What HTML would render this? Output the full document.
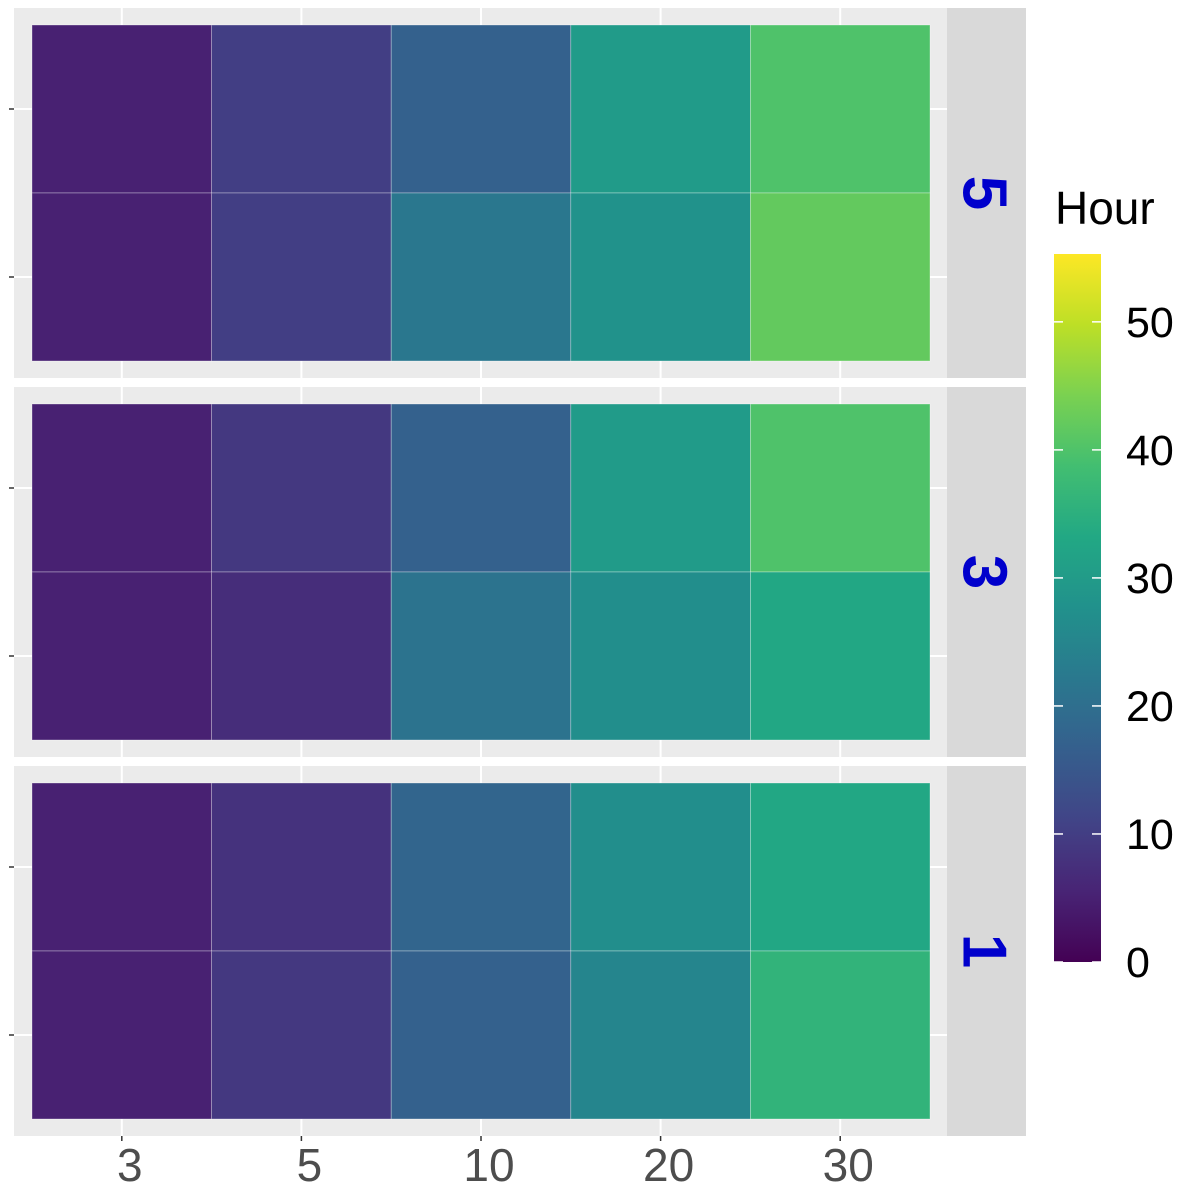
<!DOCTYPE html>
<html><head><meta charset="utf-8"><style>
html,body{margin:0;padding:0;background:#fff;}
svg{display:block;font-family:"Liberation Sans",sans-serif;}
</style></head><body>
<svg id="chart" width="1200" height="1200" viewBox="0 0 1200 1200"></svg>
<script>
const xCategories = ["3","5","10","20","30"];
const facets = ["5","3","1"];
const rowLabels = ["top","bottom"];
// values[facet][row][col]
const values5 = [[5,10,17,30,40],[5,10,22,28,42]];
const values3 = [[5,9,17,30,40],[5,7,21,27,33]];
const values1 = [[5,8,18,27,33],[5,9,17,25,36]];
const facetValues = [values5, values3, values1];
const legendTicks = [0,10,20,30,40,50];
const legendMin = 0, legendMax = 55.3;

const NS = "http://www.w3.org/2000/svg";
const svg = document.getElementById("chart");
function mk(tag, attrs, parent){const e=document.createElementNS(NS,tag);for(const k in attrs)e.setAttribute(k,attrs[k]);(parent||svg).appendChild(e);return e;}

const vir = [[68,1,84],[72,36,117],[65,68,135],[53,95,141],[42,120,142],[33,145,140],[34,168,132],[66,190,113],[122,209,81],[189,223,38],[253,231,37]];
function viridis(t){t=Math.max(0,Math.min(1,t));const p=t*(vir.length-1);const i=Math.min(vir.length-2,Math.floor(p));const f=p-i;const c=vir[i].map((v,k)=>Math.round(v+(vir[i+1][k]-v)*f));return `rgb(${c[0]},${c[1]},${c[2]})`;}

const panelX0=14, panelX1=947, tileX0=32, tileX1=930;
const panelTops=[8,387,766], panelH=370, tileOff=17, tileH=336;
const colW=(tileX1-tileX0)/xCategories.length;
function xPos(i){return tileX0+colW*(i+0.5);}

facets.forEach((f,fi)=>{
  const py=panelTops[fi];
  const g=mk("g",{});
  
  
  mk("rect",{x:panelX0,y:py,width:panelX1-panelX0,height:panelH,fill:"#ebebeb"},g);
  xCategories.forEach((c,i)=>{mk("line",{x1:xPos(i),x2:xPos(i),y1:py,y2:py+panelH,stroke:"#fff","stroke-width":2},g);});
  rowLabels.forEach((r,ri)=>{const yy=py+tileOff+tileH/4+ri*tileH/2;mk("line",{x1:panelX0,x2:panelX1,y1:yy,y2:yy,stroke:"#fff","stroke-width":2},g);
    mk("line",{x1:9,x2:14,y1:yy,y2:yy,stroke:"#333","stroke-width":1.5});});
  const vals=facetValues[fi];
  vals.forEach((row,ri)=>{row.forEach((v,ci)=>{
    const r=mk("rect",{x:tileX0+ci*colW,y:py+tileOff+ri*tileH/2,width:colW,height:tileH/2,fill:viridis((v-legendMin)/(legendMax-legendMin)),stroke:"rgba(255,255,255,0.45)","stroke-width":0.7},g);
    
    
  });});
  mk("rect",{x:947,y:py,width:79,height:panelH,fill:"#d9d9d9"},g);
  const t=mk("text",{x:0,y:0,transform:`translate(984,${py+panelH/2}) rotate(90)`,"text-anchor":"middle","dominant-baseline":"central","font-size":62,"font-weight":"bold",fill:"#0000cc"},g);
  t.textContent=f;
  
  
});
xCategories.forEach((c,i)=>{
  mk("line",{x1:xPos(i),x2:xPos(i),y1:1136,y2:1141,stroke:"#333","stroke-width":1.5});
  const t=mk("text",{x:xPos(i)+8,y:1181,"text-anchor":"middle","font-size":46,fill:"#4d4d4d"});
  t.textContent=c;
  
  
});
const lg=mk("g",{});


const ht=mk("text",{x:1055,y:224,"font-size":46,fill:"#000"},lg);ht.textContent="Hour";
const defs=mk("defs",{});
const grad=mk("linearGradient",{id:"vg",x1:0,y1:1,x2:0,y2:0},defs);
for(let i=0;i<=20;i++){mk("stop",{offset:i/20,"stop-color":viridis(i/20)},grad);}
const barTop=254, barBot=962, barX=1054, barW=47;
function ly(v){return barBot-(v-legendMin)/(legendMax-legendMin)*(barBot-barTop);}
mk("rect",{x:barX,y:barTop,width:barW,height:barBot-barTop,fill:"url(#vg)"},lg);
legendTicks.forEach(v=>{
  mk("line",{x1:barX,x2:barX+9,y1:ly(v),y2:ly(v),stroke:"#fff","stroke-width":1.5},lg);
  mk("line",{x1:barX+barW-9,x2:barX+barW,y1:ly(v),y2:ly(v),stroke:"#fff","stroke-width":1.5},lg);
  const t=mk("text",{x:1126,y:ly(v)+15,"font-size":43,fill:"#000"},lg);
  t.textContent=v;
  
  
});
</script>
</body></html>
